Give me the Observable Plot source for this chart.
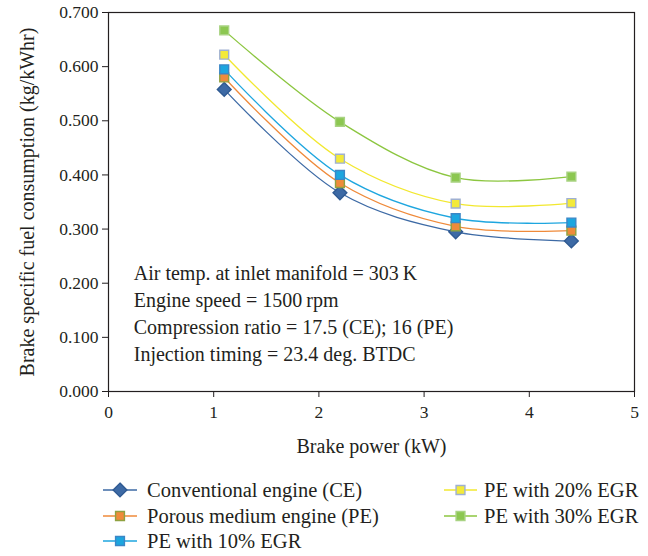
<!DOCTYPE html>
<html>
<head>
<meta charset="utf-8">
<script src="https://cdn.jsdelivr.net/npm/d3@7"></script>
<script src="https://cdn.jsdelivr.net/npm/@observablehq/plot@0.6"></script>
<style>
  html, body { margin: 0; padding: 0; background: #fff; }
  body { width: 648px; height: 556px; overflow: hidden; font-family: "Liberation Serif", "DejaVu Serif", serif; }
  #legend { position: relative; width: 648px; height: 96px; font-size: 20.5px; color: #231f20; }
  .item { position: absolute; display: flex; align-items: center; height: 24px; white-space: nowrap; }
</style>
</head>
<body>
<div id="chart"></div>
<div id="legend"></div>
<script>
const brakePower = [1.1, 2.2, 3.3, 4.4];
const seriesNames = ["Conventional engine (CE)", "Porous medium engine (PE)", "PE with 10% EGR", "PE with 20% EGR", "PE with 30% EGR"];
const ceValues    = [0.558, 0.367, 0.295, 0.278];
const peValues    = [0.580, 0.385, 0.305, 0.297];
const egr10Values = [0.595, 0.400, 0.320, 0.312];
const egr20Values = [0.622, 0.430, 0.347, 0.348];
const egr30Values = [0.667, 0.498, 0.395, 0.397];
const yTicks = [0, 0.1, 0.2, 0.3, 0.4, 0.5, 0.6, 0.7];
const xTicks = [0, 1, 2, 3, 4, 5];
const xLabel = "Brake power (kW)";
const yLabel = "Brake specific fuel consumption (kg/kWhr)";
const notes = ["Air temp. at inlet manifold = 303\u2009K", "Engine speed = 1500\u2009rpm", "Compression ratio = 17.5 (CE); 16 (PE)", "Injection timing = 23.4 deg. BTDC"];

const lineColors = ["#3d6aa5", "#ef8a3a", "#1ea6df", "#f2e82f", "#8cc640"];
const fillColors = ["#3d6aa5", "#ef8b3b", "#1ca6df", "#f3ea3a", "#8cc751"];
const edgeColors = ["#2f5a92", "#8fa140", "#3b86c6", "#9fb0d2", "#a9d383"];
const symbols = ["diamond2", "square", "square", "square", "square"];

const allValues = [ceValues, peValues, egr10Values, egr20Values, egr30Values];
const data = seriesNames.flatMap((s, i) => brakePower.map((x, j) => ({series: s, idx: i, x, y: allValues[i][j]})));

const font = "Liberation Serif, DejaVu Serif, serif";

const marks = [
  Plot.frame({stroke: "#231f20", strokeWidth: 1.2}),
  Plot.axisY({ticks: yTicks, tickFormat: d3.format(".3f"), tickSize: 6, tickPadding: 4, fontSize: 17.5, label: null}),
  Plot.axisX({ticks: xTicks, tickFormat: d3.format("d"), tickSize: 6, tickPadding: 8, fontSize: 17.5, label: null}),
  Plot.text([xLabel], {frameAnchor: "bottom", dy: 55, textAnchor: "middle", lineAnchor: "middle", fontSize: 20, fill: "#231f20"}),
  Plot.text([yLabel], {frameAnchor: "left", dx: -81, rotate: -90, textAnchor: "middle", lineAnchor: "middle", fontSize: 20, fill: "#231f20"}),
];
seriesNames.forEach((s, i) => {
  const d = data.filter(r => r.idx === i);
  marks.push(Plot.line(d, {x: "x", y: "y", curve: "catmull-rom", stroke: lineColors[i], strokeWidth: 1.3}));
});
seriesNames.forEach((s, i) => {
  const d = data.filter(r => r.idx === i);
  marks.push(Plot.dot(d, {x: "x", y: "y", symbol: () => symbols[i], r: i === 0 ? 6.2 : 5, fill: fillColors[i], stroke: edgeColors[i], strokeWidth: 1.4}));
});
marks.push(Plot.text([notes.join("\n")], {x: () => 0.24, y: () => 0.147, text: d => d, textAnchor: "start", lineAnchor: "middle", lineHeight: 1.36, fontSize: 20, fill: "#231f20"}));

const chart = Plot.plot({
  width: 648, height: 460,
  marginLeft: 108, marginRight: 14, marginTop: 12, marginBottom: 69,
  x: {domain: [0, 5]},
  y: {domain: [0, 0.7]},
  style: {fontFamily: font, fontSize: "20px", color: "#231f20", background: "#fff"},
  marks
});
document.getElementById("chart").appendChild(chart);

// legend
const legend = document.getElementById("legend");
const positions = [[103, 18, 34, 10], [103, 44, 34, 10], [103, 69, 34, 10], [444, 18, 33, 7], [444, 44, 33, 7]];
seriesNames.forEach((s, i) => {
  const [left, top, w, gap] = positions[i];
  const div = document.createElement("div");
  div.className = "item";
  div.style.left = left + "px";
  div.style.top = top + "px";
  const svg = d3.create("svg").attr("width", w).attr("height", 20).style("margin-right", gap + "px");
  svg.append("line").attr("x1", 0).attr("x2", w).attr("y1", 10).attr("y2", 10).attr("stroke", lineColors[i]).attr("stroke-width", 1.6);
  const sym = i === 0 ? d3.symbolDiamond2 : d3.symbolSquare;
  const size = i === 0 ? Math.PI * 6.2 * 6.2 : Math.PI * 5 * 5;
  svg.append("path").attr("transform", `translate(${w / 2},10)`).attr("d", d3.symbol(sym, size)())
    .attr("fill", fillColors[i]).attr("stroke", edgeColors[i]).attr("stroke-width", 1.4);
  div.appendChild(svg.node());
  const span = document.createElement("span");
  span.textContent = s;
  div.appendChild(span);
  legend.appendChild(div);
});
</script>
</body>
</html>
